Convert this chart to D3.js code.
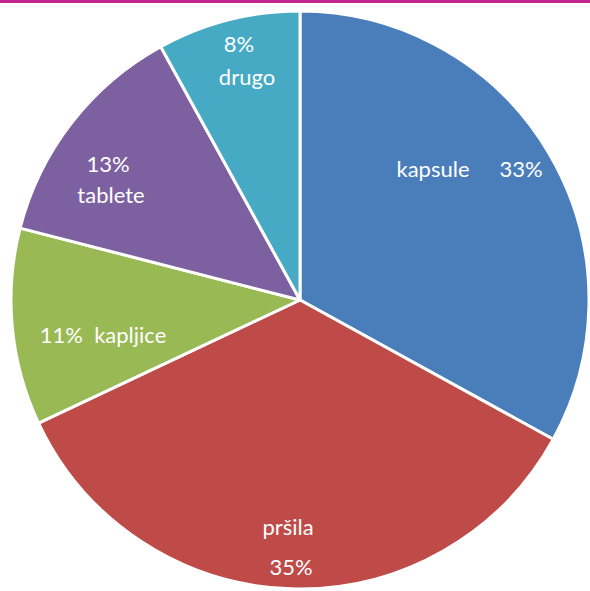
<!DOCTYPE html>
<html>
<head>
<meta charset="utf-8">
<script src="https://cdn.jsdelivr.net/npm/d3@7"></script>
<style>
  body { margin: 0; background: #fff; }
  svg { display: block; }
</style>
</head>
<body>
<svg></svg>
<script>
const categories = ["kapsule", "pršila", "kapljice", "tablete", "drugo"];
const values = [33, 35, 11, 13, 8];
const colors = ["#4a7ebb", "#be4b48", "#98b954", "#7d60a0", "#46aac5"];

// label lines per slice, offsets from pie centre
const labelLayout = [
    [{t: "kapsule", dx: 133, dy: -123}, {t: "33%", dx: 221, dy: -123}],
    [{t: "pršila", dx: -12, dy: 235}, {t: "35%", dx: -9, dy: 275}],
    [{t: "11%  kapljice", dx: -197, dy: 43}],
    [{t: "13%", dx: -192, dy: -128}, {t: "tablete", dx: -189, dy: -97}],
    [{t: "8%", dx: -61, dy: -248}, {t: "drugo", dx: -53, dy: -215}]
];

const svgWidth = 590;
const svgHeight = 591;
const svg = d3.select("svg")
    .attr("width", svgWidth)
    .attr("height", svgHeight);

// magenta rule along the top
svg.append("rect")
    .attr("x", 0).attr("y", 0)
    .attr("width", svgWidth).attr("height", 3)
    .attr("fill", "#c0268f");

const cx = 300, cy = 300, radius = 289;

const g = svg.append("g")
    .attr("transform", "translate(" + cx + "," + cy + ")");

const pie = d3.pie().sort(null).value(d => d.value);
const arc = d3.arc().innerRadius(0).outerRadius(radius);

const data = categories.map((c, i) => ({name: c, value: values[i], i: i}));

g.selectAll("path")
    .data(pie(data))
    .enter().append("path")
    .attr("d", arc)
    .attr("fill", d => colors[d.data.i])
    .attr("stroke", "#fff")
    .attr("stroke-width", 3)
    .attr("stroke-linejoin", "round");

const labels = g.append("g")
    .attr("font-family", "Lato, 'Open Sans', sans-serif")
    .attr("font-size", 22)
    .attr("fill", "#fff")
    .attr("text-anchor", "middle");

labelLayout.forEach(lines => {
    lines.forEach(l => {
        labels.append("text")
            .attr("x", l.dx)
            .attr("y", l.dy)
            .attr("xml:space", "preserve")
            .style("white-space", "pre")
            .text(l.t);
    });
});
</script>
</body>
</html>
